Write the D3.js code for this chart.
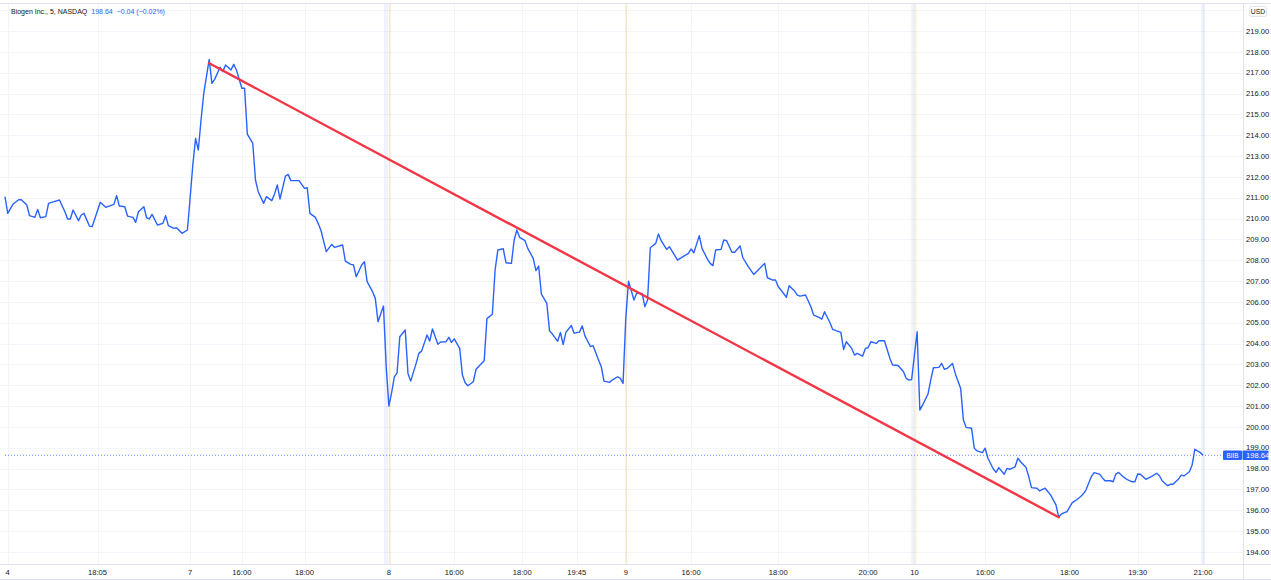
<!DOCTYPE html>
<html><head><meta charset="utf-8">
<script src="https://cdn.jsdelivr.net/npm/d3@7/dist/d3.min.js"></script>
<style>html,body{margin:0;padding:0;background:#fff;}svg{display:block;font-family:"Liberation Sans",Arial,sans-serif;}</style>
</head><body>
<svg id="c" width="1271" height="580"></svg>
<script>
// ---- data (bar index = 5-minute bar number, price in USD) ----
const day4 = [[0,211.05],[1,210.25],[3,210.7],[5,210.9],[6,210.9],[8,210.65],[9,210.14],[11,210.06],[12,210.44],[13,210.04],[15,210.09],[16,210.73],[18,210.81],[20,210.89],[22,210.33],[23,209.98],[24,209.98],[25,210.41],[27,209.9],[28,210.17],[29,210.25],[31,209.64],[32,209.61],[35,210.78],[37,210.54],[40,210.68],[41,211.1],[42,210.6],[44,210.57],[45,210.12],[47,210.06],[48,209.82],[49,210.33],[51,210.57],[52,210.04],[53,209.98],[54,210.2],[56,209.69],[58,209.77],[59,210.14],[60,209.66],[62,209.53],[63,209.56],[65,209.29],[67,209.45]];
const day7 = [[68,211.0],[69,212.6],[70,213.85],[71,213.29],[72,214.73],[73,216.01],[75,217.64],[76,216.49],[77,216.68],[79,217.26],[80,217.05],[81,217.37],[83,217.13],[84,217.4],[85,217.13],[87,216.25],[88,216.25],[89,214.05],[91,213.61],[92,211.85],[93,211.29],[95,210.73],[96,211.05],[98,210.86],[99,211.18],[100,211.61],[101,210.94],[103,212.04],[104,212.12],[105,211.82],[108,211.82],[110,211.45],[111,211.48],[112,210.25],[114,210.06],[115,209.77],[116,209.45],[118,208.41],[120,208.76],[121,208.62],[124,208.73],[125,207.96],[127,207.8],[128,207.77],[129,207.21],[131,207.77],[132,207.93],[133,206.97],[135,206.49],[136,206.17],[137,205.05],[139,205.8],[140,202.9]];
const day8 = [[141,201.0],[142,201.65],[143,202.4],[144,202.6],[145,204.33],[147,204.65],[148,202.57],[149,202.2],[151,203.05],[152,203.53],[153,203.64],[155,204.41],[156,204.12],[157,204.7],[159,203.97],[160,204.08],[162,204.09],[163,204.3],[164,204.06],[165,204.23],[167,203.77],[168,202.49],[169,202.12],[170,201.98],[172,202.17],[173,202.77],[175,203.05],[176,203.18],[177,205.2],[179,205.41],[180,207.53],[181,208.49],[183,208.55],[184,207.88],[186,207.85],[187,208.97],[188,209.45],[189,209.1],[191,208.94],[192,208.57],[194,208.09],[195,207.5],[196,207.72],[197,206.37],[199,205.93],[200,204.6],[201,204.47],[203,204.11],[204,204.54],[205,203.95],[206,204.54],[208,204.87],[209,204.5],[211,204.55],[212,204.85],[213,204.37],[215,203.86],[216,203.9],[218,203.21],[219,202.89],[220,202.2],[222,202.14],[223,202.25],[225,202.41],[226,202.33],[227,202.09]];
const day9 = [[228,205.2],[229,207.0],[231,206.09],[232,206.42],[234,206.41],[235,205.77],[236,206.09],[237,208.6],[239,208.81],[240,209.26],[241,208.94],[243,208.52],[244,208.65],[247,208.01],[249,208.17],[251,208.33],[252,208.54],[253,208.36],[255,209.18],[256,208.57],[258,208.05],[259,207.85],[260,207.74],[261,208.49],[263,208.52],[264,208.97],[265,208.94],[267,208.38],[268,208.38],[270,208.68],[271,208.12],[273,207.69],[275,207.32],[277,207.58],[279,207.85],[280,207.16],[282,207.05],[283,207.05],[284,206.73],[285,206.57],[287,206.22],[288,206.78],[290,206.52],[291,206.33],[292,206.28],[294,206.33],[296,205.77],[297,205.37],[299,205.26],[300,205.17],[301,205.53],[303,205.0],[304,204.68],[307,204.54],[308,203.72],[309,204.09],[311,203.77],[312,203.45],[313,203.53],[315,203.4],[316,203.77],[317,203.8],[318,204.09],[320,204.01],[321,204.14],[323,204.14],[324,203.72],[325,203.29],[326,202.97],[328,202.95],[330,202.65],[331,202.33],[332,202.25],[333,202.28]];
const day10 = [[335,204.57],[336,200.81],[337,201.05],[339,201.58],[340,202.25],[341,202.84],[343,202.86],[344,203.05],[345,202.77],[346,202.81],[348,203.05],[349,202.57],[351,201.85],[352,200.33],[353,199.98],[355,199.94],[356,198.98],[357,198.85],[359,198.77],[360,198.98],[361,198.5],[363,197.98],[364,197.82],[365,198.05],[367,197.73],[368,198.01],[369,197.97],[371,198.09],[372,198.5],[373,198.33],[375,198.05],[376,197.62],[377,197.09],[379,197.06],[380,196.93],[382,197.06],[383,196.9],[384,196.74],[386,196.26],[387,195.67],[388,195.82],[389,195.89],[390,195.93],[392,196.37],[393,196.45],[395,196.65],[396,196.78],[397,196.97],[399,197.62],[400,197.81],[402,197.74],[403,197.57],[404,197.42],[406,197.42],[407,197.37],[408,197.74],[409,197.82],[411,197.58],[412,197.49],[414,197.37],[415,197.37],[416,197.74],[417,197.73],[419,197.49],[421,197.62],[423,197.78],[424,197.66],[425,197.42],[427,197.18],[428,197.25],[429,197.25],[431,197.5],[432,197.69],[433,197.65],[435,197.85],[436,198.17],[437,198.93],[439,198.77],[440,198.64]];
const trendLine = [[75,217.45],[387,195.67]];
const lastPrice = 198.64;
const headerTitle = "Biogen Inc., 5, NASDAQ";
const headerPrice = "198.64";
const headerChange = "\u22120.04 (\u22120.02%)";
const tickBars = [1,34,68,87,110,141,165,190,210,228,252,284,317,334,360,391,416,440];
const tickLabels = ["4","18:05","7","16:00","18:00","8","16:00","18:00","19:45","9","16:00","18:00","20:00","10","16:00","18:00","19:30","21:00"];
const gridPrices = d3.range(194, 221, 1);
const labelPrices = d3.range(194, 220, 1);
const dayBreaks = [141.4, 228.1, 334.4];
const preBands = [[139.2,140.7],[332.8,334.0],[439.3,440.7]];

// ---- layout ----
const W = 1271, H = 580;
const axisX = 1243.5, axisY = 564.5, topY = 3.5;
const x = d3.scaleLinear().domain([0, 440]).range([5, 1203]);
const y = d3.scaleLinear().domain([194, 219]).range([552, 31]);
const svg = d3.select("#c");
const blue = "#2962ff";
const gridC = "#f2f4f9", borderC = "#e0e3eb", textC = "#131722";

svg.append("rect").attr("width", W).attr("height", H).attr("fill", "#fff");

svg.append("defs").append("clipPath").attr("id", "plot")
  .append("rect").attr("x", 0).attr("y", topY).attr("width", axisX).attr("height", axisY - topY);
const plot = svg.append("g").attr("clip-path", "url(#plot)");

// horizontal grid
plot.selectAll(".hg").data(gridPrices).enter().append("line")
  .attr("x1", 0).attr("x2", axisX).attr("y1", d => Math.round(y(d)) + 0.5).attr("y2", d => Math.round(y(d)) + 0.5)
  .attr("stroke", gridC).attr("stroke-width", 1);
// vertical grid
plot.selectAll(".vg").data(tickBars).enter().append("line")
  .attr("y1", topY).attr("y2", axisY).attr("x1", d => Math.round(x(d)) + 0.5).attr("x2", d => Math.round(x(d)) + 0.5)
  .attr("stroke", gridC).attr("stroke-width", 1);

// session bands
plot.selectAll(".pb").data(preBands).enter().append("rect")
  .attr("x", d => x(d[0])).attr("width", d => x(d[1]) - x(d[0]))
  .attr("y", topY).attr("height", axisY - topY).attr("fill", "rgba(41,98,255,0.08)");
plot.selectAll(".db").data(dayBreaks).enter().append("line")
  .attr("x1", d => x(d)).attr("x2", d => x(d)).attr("y1", topY).attr("y2", axisY)
  .attr("stroke", "rgba(255,152,0,0.15)").attr("stroke-width", 2);

// last price dotted line
plot.append("line").attr("x1", 5).attr("x2", axisX).attr("y1", y(lastPrice)).attr("y2", y(lastPrice))
  .attr("stroke", blue).attr("stroke-width", 1).attr("stroke-dasharray", "1,2").attr("opacity", 0.7);

// price line
const series = [].concat(day4, day7, day8, day9, day10);
const line = d3.line().x(d => x(d[0])).y(d => y(d[1]));
plot.append("path").datum(series).attr("d", line).attr("fill", "none")
  .attr("stroke", blue).attr("stroke-width", 1.4).attr("stroke-linejoin", "round");

// trend line
plot.append("path").datum(trendLine).attr("d", line).attr("fill", "none")
  .attr("stroke", "#f23645").attr("stroke-width", 2.4).attr("stroke-linecap", "round");

// borders
svg.append("line").attr("x1", 0).attr("x2", W).attr("y1", topY).attr("y2", topY).attr("stroke", borderC);
svg.append("line").attr("x1", axisX).attr("x2", axisX).attr("y1", topY).attr("y2", H).attr("stroke", borderC);
svg.append("line").attr("x1", 0).attr("x2", W).attr("y1", axisY).attr("y2", axisY).attr("stroke", borderC);
svg.append("line").attr("x1", 0).attr("x2", W).attr("y1", H - 0.5).attr("y2", H - 0.5).attr("stroke", borderC);

// right axis
const ya = svg.append("g").attr("font-size", "7.6px").attr("fill", textC);
ya.selectAll("text").data(labelPrices).enter().append("text")
  .attr("x", 1246).attr("y", d => y(d)).attr("dy", "0.35em").text(d => d.toFixed(2));
// USD badge
svg.append("rect").attr("x", 1249.5).attr("y", 6.5).attr("width", 17).attr("height", 10).attr("rx", 2)
  .attr("fill", "#fff").attr("stroke", borderC);
svg.append("text").attr("x", 1258).attr("y", 11.8).attr("dy", "0.35em").attr("text-anchor", "middle")
  .attr("font-size", "6.8px").attr("fill", textC).text("USD");

// last price badge
const ly = y(lastPrice);
svg.append("rect").attr("x", 1223).attr("y", ly - 4.8).attr("width", 19).attr("height", 9.6).attr("fill", blue).attr("rx", 1);
svg.append("rect").attr("x", 1242.5).attr("y", ly - 4.8).attr("width", 26).attr("height", 9.6).attr("fill", blue).attr("rx", 1);
svg.append("text").attr("x", 1232.5).attr("y", ly).attr("dy", "0.35em").attr("text-anchor", "middle")
  .attr("font-size", "6.4px").attr("fill", "#fff").text("BIIB");
svg.append("text").attr("x", 1246).attr("y", ly).attr("dy", "0.35em")
  .attr("font-size", "7.6px").attr("fill", "#fff").text(lastPrice.toFixed(2));

// bottom axis
const xa = svg.append("g").attr("font-size", "7.6px").attr("fill", textC).attr("text-anchor", "middle");
xa.selectAll("text").data(tickBars).enter().append("text")
  .attr("x", d => x(d)).attr("y", 572).attr("dy", "0.35em").text((d, i) => tickLabels[i]);

// header
const hd = svg.append("text").attr("x", 11).attr("y", 12).attr("dy", "0.35em").attr("font-size", "7px");
hd.append("tspan").attr("fill", textC).text(headerTitle);
hd.append("tspan").attr("fill", blue).attr("dx", 4).text(headerPrice);
hd.append("tspan").attr("fill", blue).attr("dx", 4).text(headerChange);
</script>
</body></html>
